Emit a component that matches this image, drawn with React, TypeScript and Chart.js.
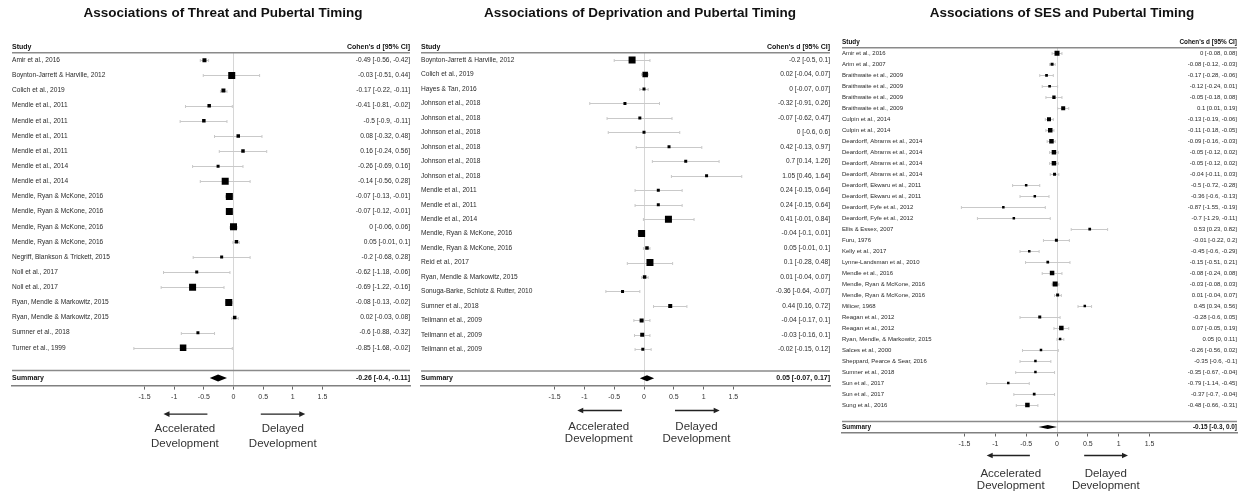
import React, { useEffect, useRef } from "react";
import { Chart, registerables } from "chart.js";

Chart.register(...registerables);

const FONT = "'Liberation Sans', Arial, Helvetica, sans-serif";

// ---------- shared labels ----------
const xTickValues = [-1.5, -1, -0.5, 0, 0.5, 1, 1.5];
const columnHeaders = ["Study", "Cohen's d [95% CI]"];
const summaryLabel = "Summary";
const leftArrowLabel = ["Accelerated", "Development"];
const rightArrowLabel = ["Delayed", "Development"];

// ---------- Threat ----------
const threatTitle = "Associations of Threat and Pubertal Timing";
const threatStudies = [
  "Amir et al., 2016",
  "Boynton-Jarrett & Harville, 2012",
  "Colich et al., 2019",
  "Mendle et al., 2011",
  "Mendle et al., 2011",
  "Mendle et al., 2011",
  "Mendle et al., 2011",
  "Mendle et al., 2014",
  "Mendle et al., 2014",
  "Mendle, Ryan & McKone, 2016",
  "Mendle, Ryan & McKone, 2016",
  "Mendle, Ryan & McKone, 2016",
  "Mendle, Ryan & McKone, 2016",
  "Negriff, Blankson & Trickett, 2015",
  "Noll et al., 2017",
  "Noll et al., 2017",
  "Ryan, Mendle & Markowitz, 2015",
  "Ryan, Mendle & Markowitz, 2015",
  "Sumner et al., 2018",
  "Turner et al., 1999",
];
const threatD = [-0.49, -0.03, -0.17, -0.41, -0.5, 0.08, 0.16, -0.26, -0.14, -0.07, -0.07, 0, 0.05, -0.2, -0.62, -0.69, -0.08, 0.02, -0.6, -0.85];
const threatLo = [-0.56, -0.51, -0.22, -0.81, -0.9, -0.32, -0.24, -0.69, -0.56, -0.13, -0.12, -0.06, -0.01, -0.68, -1.18, -1.22, -0.13, -0.03, -0.88, -1.68];
const threatHi = [-0.42, 0.44, -0.11, -0.02, -0.11, 0.48, 0.56, 0.16, 0.28, -0.01, -0.01, 0.06, 0.1, 0.28, -0.06, -0.16, -0.02, 0.08, -0.32, -0.02];
const threatWeights = [4, 7, 4, 3.5, 3.5, 3.5, 3.5, 3, 7, 7, 7, 7, 3.5, 3, 3, 7, 7, 3.5, 3, 6.5];
const threatSummary = [-0.26, -0.4, -0.11];
const threatSummaryText = "-0.26 [-0.4, -0.11]";

// ---------- Deprivation ----------
const depTitle = "Associations of Deprivation and Pubertal Timing";
const depStudies = [
  "Boynton-Jarrett & Harville, 2012",
  "Colich et al., 2019",
  "Hayes & Tan, 2016",
  "Johnson et al., 2018",
  "Johnson et al., 2018",
  "Johnson et al., 2018",
  "Johnson et al., 2018",
  "Johnson et al., 2018",
  "Johnson et al., 2018",
  "Mendle et al., 2011",
  "Mendle et al., 2011",
  "Mendle et al., 2014",
  "Mendle, Ryan & McKone, 2016",
  "Mendle, Ryan & McKone, 2016",
  "Reid et al., 2017",
  "Ryan, Mendle & Markowitz, 2015",
  "Sonuga-Barke, Schlotz & Rutter, 2010",
  "Sumner et al., 2018",
  "Teilmann et al., 2009",
  "Teilmann et al., 2009",
  "Teilmann et al., 2009",
];
const depD = [-0.2, 0.02, 0, -0.32, -0.07, 0, 0.42, 0.7, 1.05, 0.24, 0.24, 0.41, -0.04, 0.05, 0.1, 0.01, -0.36, 0.44, -0.04, -0.03, -0.02];
const depLo = [-0.5, -0.04, -0.07, -0.91, -0.62, -0.6, -0.13, 0.14, 0.46, -0.15, -0.15, -0.01, -0.1, -0.01, -0.28, -0.04, -0.64, 0.16, -0.17, -0.16, -0.15];
const depHi = [0.1, 0.07, 0.07, 0.26, 0.47, 0.6, 0.97, 1.26, 1.64, 0.64, 0.64, 0.84, 0.01, 0.1, 0.48, 0.07, -0.07, 0.72, 0.1, 0.1, 0.12];
const depWeights = [7, 5.5, 3, 3, 3, 3, 3, 3, 3, 3, 3, 7, 7, 3.5, 7, 3.5, 3, 4, 4, 4, 3];
const depSummary = [0.05, -0.07, 0.17];
const depSummaryText = "0.05 [-0.07, 0.17]";

// ---------- SES ----------
const sesTitle = "Associations of SES and Pubertal Timing";
const sesStudies = [
  "Amir et al., 2016",
  "Arim et al., 2007",
  "Braithwaite et al., 2009",
  "Braithwaite et al., 2009",
  "Braithwaite et al., 2009",
  "Braithwaite et al., 2009",
  "Culpin et al., 2014",
  "Culpin et al., 2014",
  "Deardorff, Abrams et al., 2014",
  "Deardorff, Abrams et al., 2014",
  "Deardorff, Abrams et al., 2014",
  "Deardorff, Abrams et al., 2014",
  "Deardorff, Ekwaru et al., 2011",
  "Deardorff, Ekwaru et al., 2011",
  "Deardorff, Fyfe et al., 2012",
  "Deardorff, Fyfe et al., 2012",
  "Ellis & Essex, 2007",
  "Furu, 1976",
  "Kelly et al., 2017",
  "Lynne-Landsman et al., 2010",
  "Mendle et al., 2016",
  "Mendle, Ryan & McKone, 2016",
  "Mendle, Ryan & McKone, 2016",
  "Milicer, 1968",
  "Reagan et al., 2012",
  "Reagan et al., 2012",
  "Ryan, Mendle, & Markowitz, 2015",
  "Salces et al., 2000",
  "Sheppard, Pearce & Sear, 2016",
  "Sumner et al., 2018",
  "Sun et al., 2017",
  "Sun et al., 2017",
  "Sung et al., 2016",
];
const sesD = [0, -0.08, -0.17, -0.12, -0.05, 0.1, -0.13, -0.11, -0.09, -0.05, -0.05, -0.04, -0.5, -0.36, -0.87, -0.7, 0.53, -0.01, -0.45, -0.15, -0.08, -0.03, 0.01, 0.45, -0.28, 0.07, 0.05, -0.26, -0.35, -0.35, -0.79, -0.37, -0.48];
const sesLo = [-0.08, -0.12, -0.28, -0.24, -0.18, 0.01, -0.19, -0.18, -0.16, -0.12, -0.12, -0.11, -0.72, -0.6, -1.55, -1.29, 0.23, -0.22, -0.6, -0.51, -0.24, -0.08, -0.04, 0.34, -0.6, -0.05, 0, -0.56, -0.6, -0.67, -1.14, -0.7, -0.66];
const sesHi = [0.08, -0.03, -0.06, 0.01, 0.08, 0.19, -0.06, -0.05, -0.03, 0.02, 0.02, 0.03, -0.28, -0.13, -0.19, -0.11, 0.82, 0.2, -0.29, 0.21, 0.08, 0.03, 0.07, 0.56, 0.05, 0.19, 0.11, 0.02, -0.1, -0.04, -0.45, -0.04, -0.31];
const sesWeights = [5, 3, 2.7, 2.7, 3.3, 4, 4, 4.5, 4.5, 4.5, 4.5, 3, 2.5, 2.5, 2.5, 2.5, 2.7, 3, 2.5, 2.7, 4.5, 5, 3, 2.5, 3, 4.5, 2.5, 2.5, 2.5, 2.5, 2.5, 2.7, 4.5];
const sesSummary = [-0.15, -0.3, 0];
const sesSummaryText = "-0.15 [-0.3, 0.0]";

type PanelData = {
  title: string;
  studies: string[];
  d: number[];
  lo: number[];
  hi: number[];
  w: number[];
  summary: number[];
  summaryText: string;
};

const panels: PanelData[] = [
  { title: threatTitle, studies: threatStudies, d: threatD, lo: threatLo, hi: threatHi, w: threatWeights, summary: threatSummary, summaryText: threatSummaryText },
  { title: depTitle, studies: depStudies, d: depD, lo: depLo, hi: depHi, w: depWeights, summary: depSummary, summaryText: depSummaryText },
  { title: sesTitle, studies: sesStudies, d: sesD, lo: sesLo, hi: sesHi, w: sesWeights, summary: sesSummary, summaryText: sesSummaryText },
];

// ---------- layout (positions / sizes only) ----------
const layouts = [
  { left: 0, width: 420, padL: 12, padR: 10, padT: 52.7, padB: 91, xMin: -3.735, xMax: 2.976, titleX: 223, fs: 6.6, diamondH: 3.5, arrowDy: 28.5, textDy: [43.5, 58], arrowL: [-1.18, -0.44], arrowR: [0.46, 1.21], textX: [-0.82, 0.83] },
  { left: 415, width: 420, padL: 6, padR: 5, padT: 52.8, padB: 91.1, xMin: -3.742, xMax: 3.121, titleX: 225, fs: 6.6, diamondH: 3, arrowDy: 25, textDy: [41, 53.5], arrowL: [-1.12, -0.37], arrowR: [0.52, 1.27], textX: [-0.76, 0.88] },
  { left: 835, width: 409, padL: 7, padR: 7, padT: 47.8, padB: 44.1, xMin: -3.485, xMax: 2.917, titleX: 227, fs: 6, diamondH: 2, arrowDy: 23, textDy: [41, 53], arrowL: [-1.14, -0.44], arrowR: [0.44, 1.15], textX: [-0.75, 0.79] },
];

type Layout = (typeof layouts)[number];

function ciText(d: number, lo: number, hi: number) {
  return `${d} [${lo}, ${hi}]`;
}

function makeForestPlugin(p: PanelData, L: Layout) {
  const n = p.studies.length;
  return {
    id: "forest",
    beforeDatasetsDraw(chart: any) {
      const { ctx } = chart;
      const xs = chart.scales.x;
      const ys = chart.scales.y;
      ctx.save();
      ctx.strokeStyle = "#c9c9c9";
      ctx.lineWidth = 1;
      for (let i = 0; i < n; i++) {
        const yy = Math.round(ys.getPixelForValue(i)) + 0.5;
        const x1 = xs.getPixelForValue(p.lo[i]);
        const x2 = xs.getPixelForValue(p.hi[i]);
        ctx.beginPath();
        ctx.moveTo(x1, yy);
        ctx.lineTo(x2, yy);
        ctx.moveTo(x1, yy - 1.5);
        ctx.lineTo(x1, yy + 1.5);
        ctx.moveTo(x2, yy - 1.5);
        ctx.lineTo(x2, yy + 1.5);
        ctx.stroke();
      }
      ctx.restore();
    },
    afterDraw(chart: any) {
      const { ctx, chartArea } = chart;
      const xs = chart.scales.x;
      const ys = chart.scales.y;
      const { left, right, top, bottom } = chartArea;
      ctx.save();

      // title
      ctx.fillStyle = "#111";
      ctx.font = `bold 13.5px ${FONT}`;
      ctx.textAlign = "center";
      ctx.textBaseline = "middle";
      ctx.fillText(p.title, L.titleX, 13);

      // column headers
      ctx.font = `bold ${L.fs + 0.4}px ${FONT}`;
      ctx.textAlign = "left";
      ctx.fillText(columnHeaders[0], left, top - 5.5);
      ctx.textAlign = "right";
      ctx.fillText(columnHeaders[1], right, top - 5.5);

      // header line
      ctx.strokeStyle = "#8a8a8a";
      ctx.lineWidth = 1.5;
      ctx.beginPath();
      ctx.moveTo(left, top);
      ctx.lineTo(right, top);
      ctx.stroke();

      // rows
      ctx.fillStyle = "#2a2a2a";
      ctx.font = `${L.fs}px ${FONT}`;
      for (let i = 0; i < n; i++) {
        const yy = ys.getPixelForValue(i);
        ctx.textAlign = "left";
        ctx.fillText(p.studies[i], left, yy);
        ctx.textAlign = "right";
        ctx.fillText(ciText(p.d[i], p.lo[i], p.hi[i]), right, yy);
      }

      // summary separator line
      const sepY = ys.getPixelForValue(n + 0.5);
      ctx.strokeStyle = "#8a8a8a";
      ctx.lineWidth = 1.5;
      ctx.beginPath();
      ctx.moveTo(left, sepY);
      ctx.lineTo(right, sepY);
      ctx.stroke();

      // summary row
      const sy = ys.getPixelForValue(n + 1);
      ctx.fillStyle = "#111";
      ctx.font = `bold ${L.fs + 0.4}px ${FONT}`;
      ctx.textAlign = "left";
      ctx.fillText(summaryLabel, left, sy);
      ctx.textAlign = "right";
      ctx.fillText(p.summaryText, right, sy);

      // diamond
      const [est, slo, shi] = p.summary;
      ctx.fillStyle = "#000";
      ctx.beginPath();
      ctx.moveTo(xs.getPixelForValue(slo), sy);
      ctx.lineTo(xs.getPixelForValue(est), sy - L.diamondH);
      ctx.lineTo(xs.getPixelForValue(shi), sy);
      ctx.lineTo(xs.getPixelForValue(est), sy + L.diamondH);
      ctx.closePath();
      ctx.fill();

      // direction arrows
      const ay = bottom + L.arrowDy;
      const drawArrow = (from: number, to: number) => {
        const x1 = xs.getPixelForValue(from);
        const x2 = xs.getPixelForValue(to);
        const dir = Math.sign(x2 - x1);
        ctx.strokeStyle = "#222";
        ctx.fillStyle = "#222";
        ctx.lineWidth = 1.3;
        ctx.beginPath();
        ctx.moveTo(x1, ay);
        ctx.lineTo(x2 - dir * 4, ay);
        ctx.stroke();
        ctx.beginPath();
        ctx.moveTo(x2, ay);
        ctx.lineTo(x2 - dir * 6, ay - 2.8);
        ctx.lineTo(x2 - dir * 6, ay + 2.8);
        ctx.closePath();
        ctx.fill();
      };
      drawArrow(L.arrowL[1], L.arrowL[0]);
      drawArrow(L.arrowR[0], L.arrowR[1]);

      ctx.fillStyle = "#333";
      ctx.font = `11.5px ${FONT}`;
      ctx.textAlign = "center";
      ctx.textBaseline = "middle";
      const lx = xs.getPixelForValue(L.textX[0]);
      const rx = xs.getPixelForValue(L.textX[1]);
      ctx.fillText(leftArrowLabel[0], lx, bottom + L.textDy[0]);
      ctx.fillText(leftArrowLabel[1], lx, bottom + L.textDy[1]);
      ctx.fillText(rightArrowLabel[0], rx, bottom + L.textDy[0]);
      ctx.fillText(rightArrowLabel[1], rx, bottom + L.textDy[1]);

      ctx.restore();
    },
  };
}

function ForestPanel({ panel, layout }: { panel: PanelData; layout: Layout }) {
  const ref = useRef<HTMLCanvasElement | null>(null);
  useEffect(() => {
    if (!ref.current) return;
    const n = panel.studies.length;
    const chart = new Chart(ref.current, {
      type: "scatter",
      data: {
        datasets: [
          {
            data: panel.d.map((v, i) => ({ x: v, y: i })),
            pointStyle: "rect",
            pointRadius: panel.w.map((w) => w / Math.SQRT2),
            pointHoverRadius: panel.w.map((w) => w / Math.SQRT2),
            backgroundColor: "#000",
            borderColor: "#000",
            borderWidth: 0,
          },
        ],
      },
      options: {
        responsive: false,
        maintainAspectRatio: false,
        animation: false,
        devicePixelRatio: 1,
        events: [],
        layout: {
          padding: { left: layout.padL, right: layout.padR, top: layout.padT, bottom: layout.padB },
        },
        plugins: {
          legend: { display: false },
          title: { display: false },
          tooltip: { enabled: false },
        },
        scales: {
          x: {
            type: "linear",
            min: layout.xMin,
            max: layout.xMax,
            afterBuildTicks: (s: any) => {
              s.ticks = xTickValues.map((v) => ({ value: v }));
            },
            ticks: {
              autoSkip: false,
              maxRotation: 0,
              padding: 3,
              color: "#333",
              font: { family: FONT, size: 7 },
              callback: (v: any) => String(v),
            },
            grid: {
              drawOnChartArea: true,
              color: (c: any) => (c.tick && c.tick.value === 0 ? "#d6d6d6" : "rgba(0,0,0,0)"),
              tickColor: "#666",
              tickLength: 4,
              lineWidth: 1,
            },
            border: { display: true, color: "#808080", width: 1.5 },
          },
          y: {
            type: "linear",
            reverse: true,
            min: -0.5,
            max: n + 1.5,
            display: false,
          },
        },
      },
      plugins: [makeForestPlugin(panel, layout)],
    } as any);
    return () => chart.destroy();
  }, [panel, layout]);

  return (
    <div style={{ position: "absolute", left: layout.left, top: 0, width: layout.width, height: 495 }}>
      <canvas ref={ref} width={layout.width} height={495} style={{ width: layout.width, height: 495, display: "block" }} />
    </div>
  );
}

export default function App() {
  return (
    <div style={{ position: "absolute", left: 0, top: 0, width: 1244, height: 495, background: "#fff", overflow: "hidden" }}>
      {panels.map((p, i) => (
        <ForestPanel key={i} panel={p} layout={layouts[i]} />
      ))}
    </div>
  );
}
